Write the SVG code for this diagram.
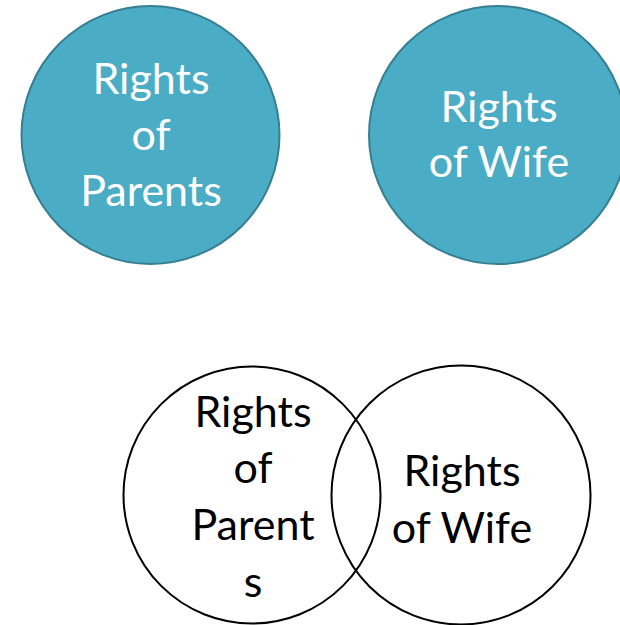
<svg xmlns="http://www.w3.org/2000/svg" width="620" height="625" viewBox="0 0 620 625">
<style>
.filled{fill:#4BACC6;stroke:#357F91;stroke-width:2}
.outline{fill:none;stroke:#000;stroke-width:2}
.wt{font-family:Lato,"Open Sans","Liberation Sans",sans-serif;font-size:43px;fill:#fff;text-anchor:middle}
.bt{font-family:Lato,"Open Sans","Liberation Sans",sans-serif;font-size:43px;fill:#000;text-anchor:middle}
</style>
<rect width="620" height="625" fill="#fff"/>
<g id="parents-top">
<circle class="filled" cx="150.5" cy="135" r="129"/>
<text class="wt" x="151" y="94">Rights</text>
<text class="wt" x="151" y="150">of</text>
<text class="wt" x="151" y="206">Parents</text>
</g>
<g id="wife-top">
<circle class="filled" cx="498" cy="135" r="129"/>
<text class="wt" x="499" y="122">Rights</text>
<text class="wt" x="499" y="177">of Wife</text>
</g>
<g id="parents-venn">
<circle class="outline" cx="252" cy="495" r="128.5"/>
<text class="bt" x="253" y="427">Rights</text>
<text class="bt" x="253" y="483">of</text>
<text class="bt" x="253" y="540">Parent</text>
<text class="bt" x="253" y="597">s</text>
</g>
<g id="wife-venn">
<circle class="outline" cx="461" cy="495" r="129.5"/>
<text class="bt" x="462" y="486">Rights</text>
<text class="bt" x="462" y="543">of Wife</text>
</g>
<g id="connectors"></g>
</svg>
